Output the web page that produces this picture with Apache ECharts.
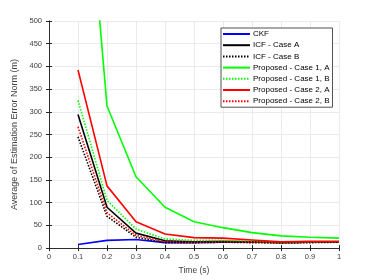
<!DOCTYPE html>
<html><head><meta charset="utf-8">
<script src="https://cdn.jsdelivr.net/npm/echarts@6/dist/echarts.min.js"></script>
<style>html,body{margin:0;padding:0;background:#fff}#c{width:374px;height:280px}</style>
</head><body><div id="c"></div>
<script>
var times = [0.1,0.2,0.3,0.4,0.5,0.6,0.7,0.8,0.9,1.0];
var ckf   = [8,17,19,12,12,13,13,13,13,13];
var icfA  = [294,90,33,16,14,15,14,12,13,14];
var icfB  = [245,70,24,12,12,13,12,11,12,13];
var p1A   = [1060,313,157,90,58,45,34,27,24,22];
var p1B   = [325,105,42,20,17,17,15,12,13,14];
var p2A   = [392,137,58,31,23,22,18,14,15,15];
var p2B   = [267,78,28,14,13,14,13,12,13,14];
var names = ['CKF','ICF - Case A','ICF - Case B','Proposed - Case 1, A','Proposed - Case 1, B','Proposed - Case 2, A','Proposed - Case 2, B'];

function pts(v){return times.map(function(t,i){return [t,v[i]];});}
var dot=[1.5,1.5];
function ser(name,vals,color,dotted){
  return {name:name,type:'line',data:pts(vals),symbol:'none',clip:true,
    lineStyle:{color:color,width:1.6,type:dotted?dot:'solid'},itemStyle:{color:color,opacity:0}};
}
var axisCol='#262626', gridCol='#e6e6e6', font='Liberation Sans, Arial, sans-serif';
var labCol='#404040';
var chart=echarts.init(document.getElementById('c'));
chart.setOption({
  animation:false,
  grid:{left:49,right:35,top:21,bottom:31,show:false},
  legend:{orient:'vertical',left:221,top:28,itemWidth:27,itemHeight:6,itemGap:3.2,
    padding:[2,3,2,1],borderColor:'#262626',borderWidth:0.8,backgroundColor:'#fff',
    itemStyle:{opacity:0},
    textStyle:{fontSize:8,color:'#000',fontFamily:font,padding:[0,0,0,-2]},data:names},
  xAxis:[{type:'value',min:0,max:1,interval:0.1,
    axisLine:{lineStyle:{color:axisCol,width:0.8}},
    axisTick:{inside:true,length:3,lineStyle:{color:axisCol}},
    splitLine:{show:true,lineStyle:{color:gridCol,width:0.8}},
    axisLabel:{fontSize:7.5,color:labCol,fontFamily:font,margin:5,formatter:function(v){return String(Math.round(v*10)/10);}},
    name:'Time (s)',nameLocation:'middle',nameGap:14,nameTextStyle:{fontSize:8.5,color:labCol,fontFamily:font}},
   {type:'value',position:'top',min:0,max:1,interval:0.1,
    axisLine:{show:true,lineStyle:{color:axisCol,width:0.8}},
    axisTick:{inside:true,length:3,lineStyle:{color:axisCol}},axisLabel:{show:false},splitLine:{show:false}}],
  yAxis:[{type:'value',min:0,max:500,interval:50,
    axisLine:{show:true,lineStyle:{color:axisCol,width:0.8}},
    axisTick:{show:true,inside:true,length:3,lineStyle:{color:axisCol}},
    splitLine:{show:true,lineStyle:{color:gridCol,width:0.8}},
    axisLabel:{fontSize:7.5,color:labCol,fontFamily:font,margin:7},
    name:'Average of Estimation Error Norm (m)',nameLocation:'middle',nameGap:19,
    nameTextStyle:{fontSize:9,color:labCol,fontFamily:font}},
   {type:'value',position:'right',min:0,max:500,interval:50,
    axisLine:{show:true,lineStyle:{color:axisCol,width:0.8}},
    axisTick:{show:true,inside:true,length:3,lineStyle:{color:axisCol}},axisLabel:{show:false},splitLine:{show:false}}],
  series:[
    ser(names[0],ckf,'#0000ff',false),
    ser(names[1],icfA,'#000000',false),
    ser(names[2],icfB,'#000000',true),
    ser(names[3],p1A,'#00ff00',false),
    ser(names[4],p1B,'#00ff00',true),
    ser(names[5],p2A,'#ff0000',false),
    ser(names[6],p2B,'#ff0000',true)
  ]
});
</script></body></html>
